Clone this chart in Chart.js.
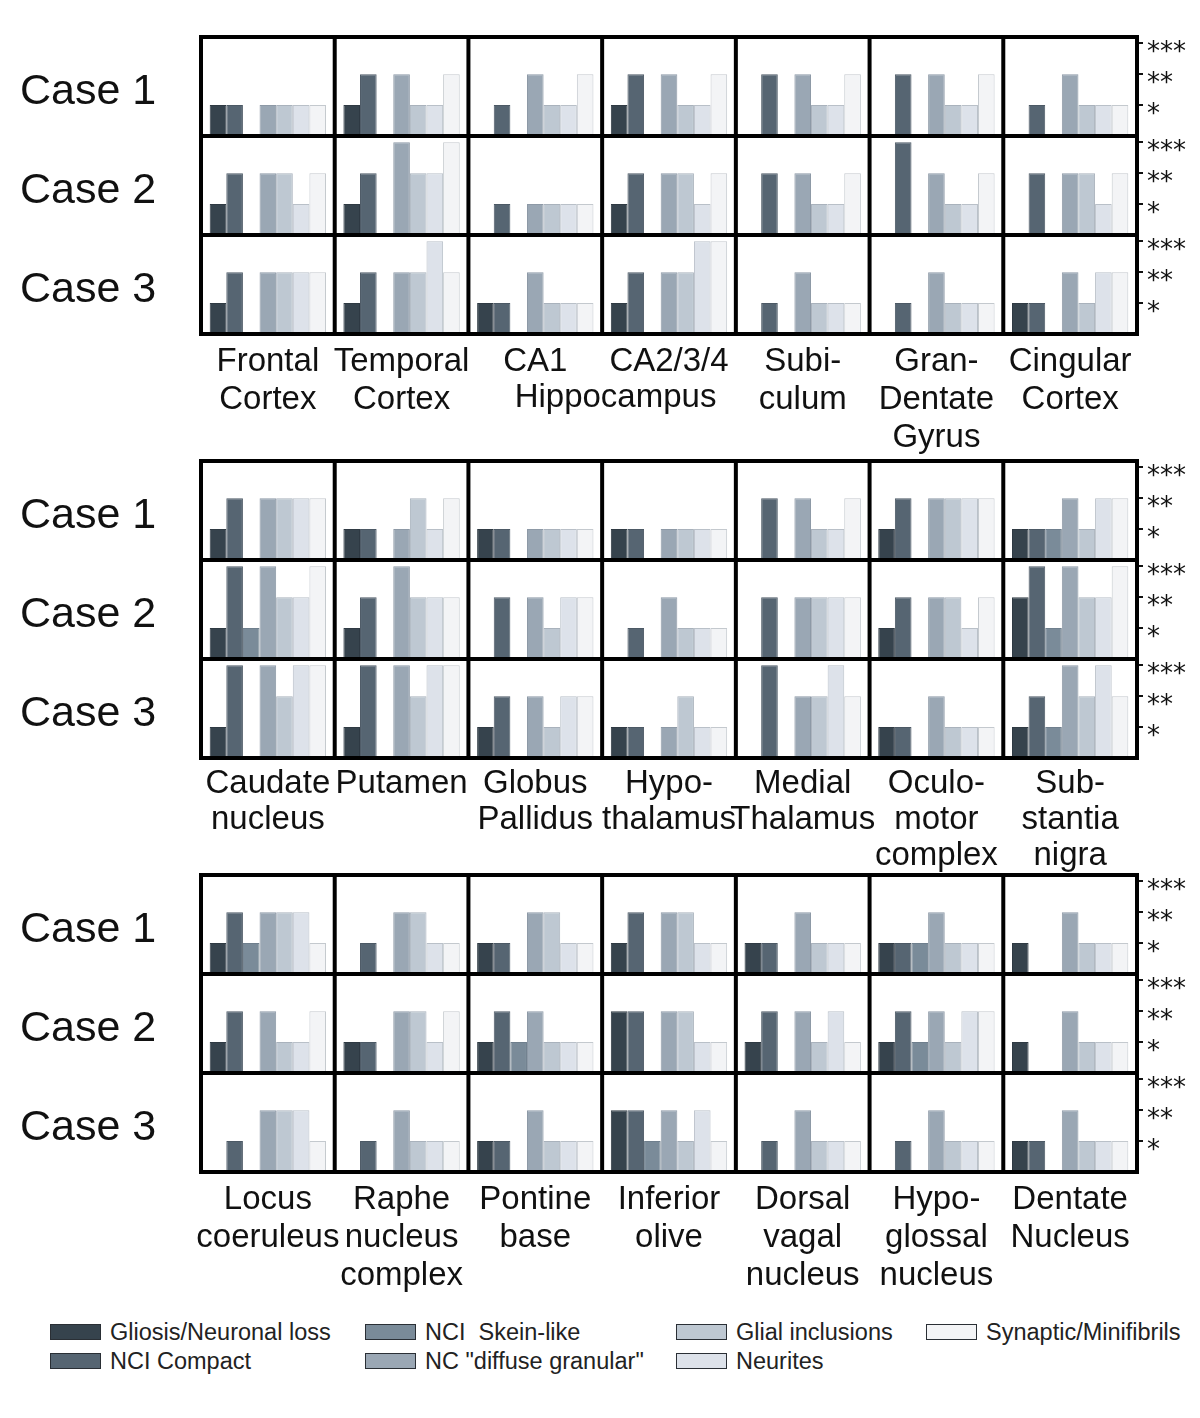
<!DOCTYPE html>
<html>
<head>
<meta charset="utf-8">
<script src="https://cdn.jsdelivr.net/npm/chart.js@4.4.0/dist/chart.umd.min.js"></script>
<style>
  body { margin: 0; background: #fff; font-family: "Liberation Sans", Arial, sans-serif; }
  #page { position: relative; width: 1200px; height: 1418px; overflow: hidden; background: #fff; }
  canvas { position: absolute; left: 0; }
  .case { position: absolute; left: 20px; font-size: 43px; line-height: 1; color: #111; transform: translateY(-50%); white-space: nowrap; }
  .leg { position: absolute; display: flex; align-items: center; height: 20px; font-size: 23.5px; color: #222; white-space: pre; }
  .leg span.box { display: inline-block; width: 49px; height: 14px; border: 1.5px solid #2a2f35; margin-right: 9px; }
</style>
</head>
<body>
<div id="page">
  <canvas id="panel1" width="1200" height="467" style="top:7px"></canvas>
  <canvas id="panel2" width="1200" height="467" style="top:431px"></canvas>
  <canvas id="panel3" width="1200" height="467" style="top:845px"></canvas>
</div>
<script>
const seriesNames = ["Gliosis/Neuronal loss", "NCI Compact", "NCI  Skein-like", 'NC "diffuse granular"', "Glial inclusions", "Neurites", "Synaptic/Minifibrils"];
const seriesColors = ["#36434d", "#566572", "#7a8b99", "#9aa7b4", "#bec8d2", "#dde2ea", "#f3f4f6"];
const seriesBorders = ["#2f3a43", "#4c5965", "#6f7f8d", "#8d99a6", "#a9b2bc", "#b9c0c8", "#c4c9ce"];
const levelLabels = ["", "*", "**", "***"];
const caseNames = ["Case 1", "Case 2", "Case 3"];

const regions1 = [["Frontal", "Cortex"], ["Temporal", "Cortex"], ["CA1"], ["CA2/3/4"], ["Subi-", "culum"], ["Gran-", "Dentate", "Gyrus"], ["Cingular", "Cortex"]];
const regions2 = [["Caudate", "nucleus"], ["Putamen"], ["Globus", "Pallidus"], ["Hypo-", "thalamus"], ["Medial", "Thalamus"], ["Oculo-", "motor", "complex"], ["Sub-", "stantia", "nigra"]];
const regions3 = [["Locus", "coeruleus"], ["Raphe", "nucleus", "complex"], ["Pontine", "base"], ["Inferior", "olive"], ["Dorsal", "vagal", "nucleus"], ["Hypo-", "glossal", "nucleus"], ["Dentate", "Nucleus"]];

// one row per region, one value per series (0 = none, 1 = *, 2 = **, 3 = ***)
const p1Case1 = [[1,1,0,1,1,1,1],[1,2,0,2,1,1,2],[0,1,0,2,1,1,2],[1,2,0,2,1,1,2],[0,2,0,2,1,1,2],[0,2,0,2,1,1,2],[0,1,0,2,1,1,1]];
const p1Case2 = [[1,2,0,2,2,1,2],[1,2,0,3,2,2,3],[0,1,0,1,1,1,1],[1,2,0,2,2,1,2],[0,2,0,2,1,1,2],[0,3,0,2,1,1,2],[0,2,0,2,2,1,2]];
const p1Case3 = [[1,2,0,2,2,2,2],[1,2,0,2,2,3,2],[1,1,0,2,1,1,1],[1,2,0,2,2,3,3],[0,1,0,2,1,1,1],[0,1,0,2,1,1,1],[1,1,0,2,1,2,2]];

const p2Case1 = [[1,2,0,2,2,2,2],[1,1,0,1,2,1,2],[1,1,0,1,1,1,1],[1,1,0,1,1,1,1],[0,2,0,2,1,1,2],[1,2,0,2,2,2,2],[1,1,1,2,1,2,2]];
const p2Case2 = [[1,3,1,3,2,2,3],[1,2,0,3,2,2,2],[0,2,0,2,1,2,2],[0,1,0,2,1,1,1],[0,2,0,2,2,2,2],[1,2,0,2,2,1,2],[2,3,1,3,2,2,3]];
const p2Case3 = [[1,3,0,3,2,3,3],[1,3,0,3,2,3,3],[1,2,0,2,1,2,2],[1,1,0,1,2,1,1],[0,3,0,2,2,3,2],[1,1,0,2,1,1,1],[1,2,1,3,2,3,2]];

const p3Case1 = [[1,2,1,2,2,2,1],[0,1,0,2,2,1,1],[1,1,0,2,2,1,1],[1,2,0,2,2,1,1],[1,1,0,2,1,1,1],[1,1,1,2,1,1,1],[1,0,0,2,1,1,1]];
const p3Case2 = [[1,2,0,2,1,1,2],[1,1,0,2,2,1,2],[1,2,1,2,1,1,1],[2,2,0,2,2,1,1],[1,2,0,2,1,2,1],[1,2,1,2,1,2,2],[1,0,0,2,1,1,1]];
const p3Case3 = [[0,1,0,2,2,2,1],[0,1,0,2,1,1,1],[1,1,0,2,1,1,1],[2,2,1,2,1,2,1],[0,1,0,2,1,1,1],[0,1,0,2,1,1,1],[1,1,0,2,1,1,1]];

const FONT = '"Liberation Sans", Arial, sans-serif';
const LABEL_SIZE = 33;

// thick black frame around every cell
const cellBorders = {
  id: "cellBorders",
  afterDatasetsDraw(chart) {
    const { ctx, chartArea, scales } = chart;
    const x = scales.x;
    const n = chart.data.labels.length;
    ctx.save();
    ctx.strokeStyle = "#000";
    ctx.lineWidth = 4;
    ctx.lineCap = "square";
    ctx.beginPath();
    for (let i = 0; i <= n; i++) {
      const px = x.getPixelForValue(i - 0.5);
      ctx.moveTo(px, chartArea.top);
      ctx.lineTo(px, chartArea.bottom);
    }
    caseNames.forEach((_, c) => {
      const y = scales["c" + (c + 1)];
      [y.top, y.bottom].forEach((py) => {
        ctx.moveTo(chartArea.left, py);
        ctx.lineTo(chartArea.right, py);
      });
    });
    ctx.stroke();
    ctx.restore();
  }
};

// label shared by two columns (Hippocampus)
const spanLabel = {
  id: "spanLabel",
  afterDraw(chart, args, opts) {
    if (!opts.text) return;
    const x = chart.scales.x;
    const { ctx } = chart;
    ctx.save();
    ctx.font = opts.size + "px " + FONT;
    ctx.fillStyle = "#111";
    ctx.textAlign = "center";
    ctx.textBaseline = "middle";
    ctx.fillText(opts.text, x.getPixelForValue(opts.at), x.top + opts.dy);
    ctx.restore();
  }
};

function buildPanel(id, regions, cases, pad, lineHeight, extra) {
  const datasets = [];
  cases.forEach((rows, c) => {
    seriesNames.forEach((name, s) => {
      datasets.push({
        label: name,
        data: rows.map((r) => r[s]),
        backgroundColor: seriesColors[s],
        borderColor: seriesBorders[s],
        borderWidth: 1,
        yAxisID: "c" + (c + 1),
        stack: "s" + s,
        barPercentage: 1,
        categoryPercentage: 0.87
      });
    });
  });

  const scales = {
    x: {
      type: "category",
      stacked: true,
      offset: true,
      grid: { display: false },
      border: { display: false },
      afterFit: (axis) => { axis.height = 140; },
      ticks: {
        autoSkip: false,
        maxRotation: 0,
        minRotation: 0,
        padding: pad,
        color: "#111",
        font: { family: FONT, size: LABEL_SIZE, lineHeight: lineHeight / LABEL_SIZE }
      }
    }
  };
  caseNames.forEach((name, c) => {
    scales["c" + (c + 1)] = {
      type: "linear",
      position: "right",
      stack: "cases",
      stackWeight: 1,
      stacked: false,
      min: 0,
      max: 3.2,
      afterBuildTicks: (axis) => { axis.ticks = [1, 2, 3].map((v) => ({ value: v })); },
      afterFit: (axis) => { axis.width = 63; },
      grid: { drawOnChartArea: false, drawTicks: true, tickLength: 6, color: "#111", lineWidth: 2 },
      border: { display: false },
      ticks: {
        autoSkip: false,
        callback: (v) => levelLabels[v],
        color: "#111",
        padding: 4,
        labelOffset: 10,
        font: { family: '"DejaVu Sans", sans-serif', size: 26 }
      }
    };
  });

  const plugins = [cellBorders];
  if (extra) plugins.push(spanLabel);

  new Chart(document.getElementById(id), {
    type: "bar",
    data: { labels: regions, datasets: datasets },
    options: {
      responsive: false,
      animation: false,
      layout: { padding: { left: 201, top: 30, right: 0, bottom: 0 } },
      scales: scales,
      plugins: {
        legend: { display: false },
        tooltip: { enabled: false },
        spanLabel: extra ? Object.assign({ size: LABEL_SIZE }, extra) : {}
      }
    },
    plugins: plugins
  });
}

buildPanel("panel1", regions1, [p1Case1, p1Case2, p1Case3], 1, 38, { text: "Hippocampus", at: 2.6, dy: 64 });
buildPanel("panel2", regions2, [p2Case1, p2Case2, p2Case3], 0, 36);
buildPanel("panel3", regions3, [p3Case1, p3Case2, p3Case3], 1, 38);

// case labels on the left of each panel
const page = document.getElementById("page");
[37, 461, 875].forEach((top) => {
  caseNames.forEach((name, c) => {
    const d = document.createElement("div");
    d.className = "case";
    d.textContent = name;
    d.style.top = (top + 52 + 99 * c) + "px";
    page.appendChild(d);
  });
});

// legend, two rows per column
const legendX = [50, 365, 676, 926];
const legendY = [1332, 1361];
seriesNames.forEach((name, i) => {
  const item = document.createElement("div");
  item.className = "leg";
  item.style.left = legendX[Math.floor(i / 2)] + "px";
  item.style.top = (legendY[i % 2] - 10) + "px";
  const box = document.createElement("span");
  box.className = "box";
  box.style.background = seriesColors[i];
  item.appendChild(box);
  item.appendChild(document.createTextNode(name));
  page.appendChild(item);
});
</script>
</body>
</html>
